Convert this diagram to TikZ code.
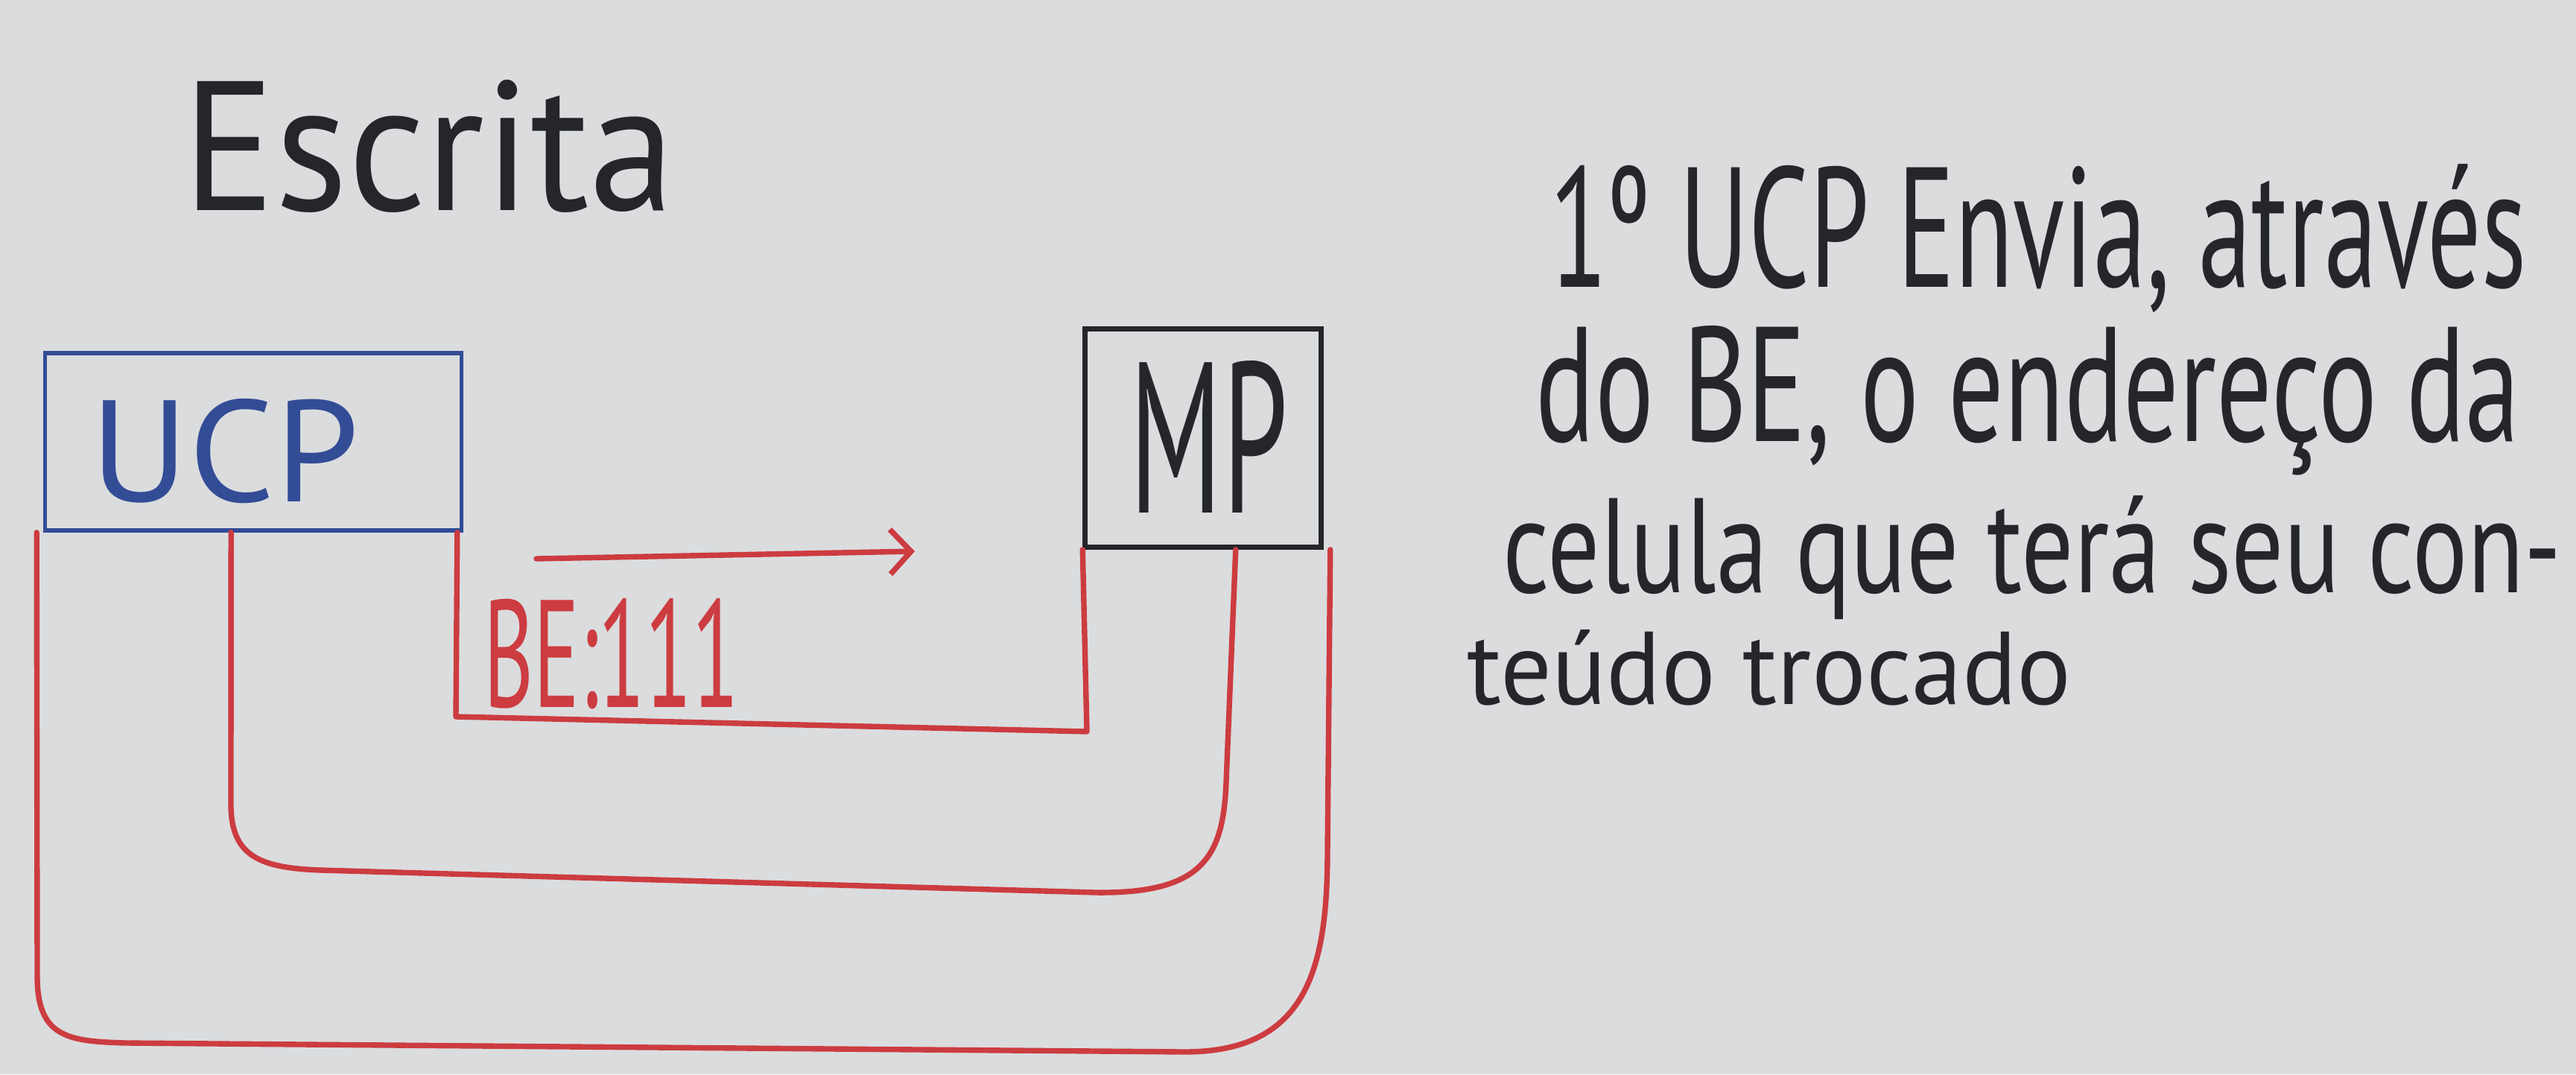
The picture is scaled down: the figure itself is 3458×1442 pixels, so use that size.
\documentclass[tikz,border=0pt]{standalone}
\usepackage{fontspec}
\usepackage{graphicx}
\setmainfont{PT Sans}
\usetikzlibrary{arrows.meta,calc}
\definecolor{board}{RGB}{219,220,222}
\definecolor{redm}{RGB}{204,60,64}
\definecolor{bluem}{RGB}{50,76,150}
\definecolor{inkm}{RGB}{36,38,42}
\newcommand\fitbox[3]{\resizebox{#1}{#2}{#3}}
\tikzset{
  busline/.style={draw=redm, line width=2.1pt, line cap=round, line join=round},
  boxucp/.style={draw=bluem, line width=1.5pt, rectangle, inner sep=0pt},
  boxmp/.style={draw=inkm, line width=1.8pt, rectangle, inner sep=0pt},
  handtext/.style={inner sep=0pt, anchor=base west},
}
\begin{document}
\begin{tikzpicture}[x=0.01cm,y=-0.01cm]
\fill[board] (0,0) rectangle (3458,1442);
\useasboundingbox (0,0) rectangle (3458,1442);

% title
\node[handtext, text=inkm] (title) at (245,282) {\fitbox{6.6cm}{1.75cm}{Escrita}};

% boxes
\node[boxucp, minimum width=5.58cm, minimum height=2.38cm] (ucp) at (340,593) {};
\node[boxmp, minimum width=3.17cm, minimum height=2.93cm] (mp) at (1615,588) {};
\node[handtext, text=bluem] (ucptext) at (121,673) {\fitbox{3.6cm}{1.38cm}{UCP}};
\node[handtext, text=inkm] (mptext) at (1516,688) {\fitbox{2.12cm}{2.04cm}{MP}};

% arrow and label
\coordinate (a1) at (720,750);
\coordinate (a2) at (1228,740);
\draw[busline, -{Straight Barb[length=0.28cm,width=0.6cm,line width=2.1pt]}] (a1) -- (a2);
\node[handtext, text=redm] (be) at (649,949) {\fitbox{3.42cm}{1.46cm}{BE:111}};

% inner bus
\draw[busline] (ucp.south east) ++(-8,0) coordinate (i1)
  (i1) -- (612,962) -- (1459,982) -- (mp.south west);
% middle bus
\draw[busline] ($(ucp.south west)+(252,0)$) coordinate (m1)
  (m1) -- (310,1080) .. controls (310,1150) and (350,1165) .. (430,1168)
  -- (1470,1198) .. controls (1615,1200) and (1642,1150) .. (1646,1050)
  -- ($(mp.south east)+(-118,0)$);
% outer bus
\draw[busline] ($(ucp.south west)+(-9,0)$) coordinate (o1)
  (o1) -- (50,1310) .. controls (50,1392) and (90,1398) .. (170,1400)
  -- (1590,1412) .. controls (1755,1412) and (1782,1300) .. (1782,1140)
  -- ($(mp.south east)+(9,0)$);

% explanation text
\node[handtext, text=inkm] (l1) at (2080,385) {\fitbox{13.1cm}{1.65cm}{1º UCP Envia, através}};
\node[handtext, text=inkm] (l2) at (2061,592) {\fitbox{13.2cm}{1.55cm}{do BE, o endereço da}};
\node[handtext, text=inkm] (l3) at (2017,795) {\fitbox{14.2cm}{1.3cm}{celula que terá seu con-}};
\node[handtext, text=inkm] (l4) at (1969,945) {\fitbox{8.1cm}{1.0cm}{teúdo trocado}};
\end{tikzpicture}
\end{document}
